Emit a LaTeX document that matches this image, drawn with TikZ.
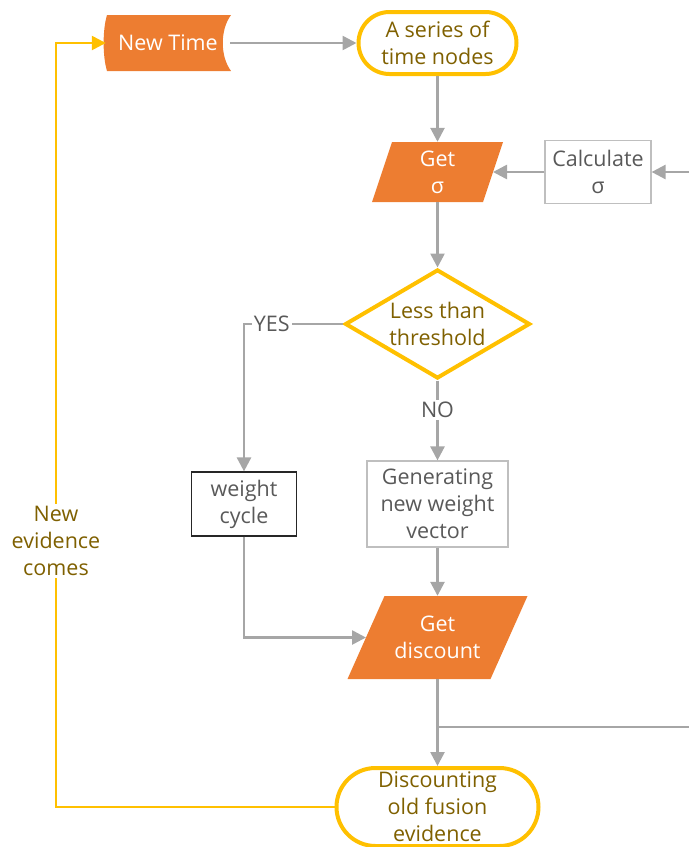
\documentclass[tikz,border=0pt]{standalone}
\usepackage{fontspec}
\setmainfont{Open Sans}
\usetikzlibrary{arrows.meta,shapes.geometric}
\definecolor{orng}{HTML}{ED7D31}
\definecolor{ylw}{HTML}{FFC000}
\definecolor{lgray}{HTML}{A6A6A6}
\definecolor{bgray}{HTML}{BFBFBF}
\definecolor{tgray}{HTML}{595959}
\definecolor{gold}{HTML}{7F6000}
\begin{document}
\begin{tikzpicture}[x=1pt,y=-1pt,
  every node/.style={font=\fontsize{21.5}{27}\selectfont, align=center, inner sep=0pt},
  conn/.style={draw=lgray, line width=2.6pt, -{Triangle[length=14pt,width=14pt]}},
  yconn/.style={draw=ylw, line width=2.5pt, -{Triangle[length=14pt,width=14pt]}},
  term/.style={draw=ylw, line width=4pt, text=gold},
  graybox/.style={draw=bgray, line width=1.2pt, text=tgray},
  darkbox/.style={draw=black!85, line width=1.2pt, text=tgray},
  orngtext/.style={text=white},
  lbl/.style={fill=white, inner sep=2pt},
]
\useasboundingbox (0,0) rectangle (689,847);
\clip (0,0) rectangle (689,847);

% shapes drawn directly
\fill[orng] (107,15) -- (231,15) .. controls (220,30) and (220,56) .. (231,71)
  -- (107,71) .. controls (102.5,56) and (102.5,30) .. (107,15);
\fill[orng] (372,202) -- (392,142) -- (503,142) -- (483,202) -- cycle;
\fill[orng] (347.5,679) -- (384.5,596) -- (527.5,596) -- (490.5,679) -- cycle;

% nodes
\node[orngtext, minimum width=124pt, minimum height=56pt] (newtime) at (168,43) {New Time};
\node[term, minimum width=158pt, minimum height=62pt, rounded corners=31pt] (series) at (437.5,43) {A series of\\time nodes};
\node[orngtext, minimum width=111pt, minimum height=60pt] (gets) at (437.5,172) {Get\\σ};
\node[graybox, minimum width=106pt, minimum height=63pt] (calc) at (598,172) {Calculate\\σ};
\node[diamond, term, aspect=1.68, minimum width=185pt, minimum height=109pt] (dia) at (437.5,324) {Less than\\threshold};
\node[darkbox, minimum width=105pt, minimum height=64pt] (wc) at (244,504) {weight\\cycle};
\node[graybox, minimum width=141pt, minimum height=86pt] (gen) at (437.5,504) {Generating\\new weight\\vector};
\node[orngtext, minimum width=143pt, minimum height=83pt] (getd) at (437.5,637.5) {Get\\discount};
\node[term, minimum width=202pt, minimum height=78pt, rounded corners=39pt] (disc) at (437.5,807) {Discounting\\old fusion\\evidence};

% named free ends and bends
\coordinate (getsR) at (493,172);
\coordinate (getdL) at (366,637.5);
\coordinate (edgeA) at (689,172);
\coordinate (edgeB) at (689,727);
\coordinate (brk) at (437.5,727);
\coordinate (cBL) at (56,807);
\coordinate (cTL) at (56,43);

% connectors
\draw[conn] (newtime.east) -- (series.west);
\draw[conn] (series.south) -- (gets.north);
\draw[conn] (edgeA) -- (calc.east);
\draw[conn] (calc.west) -- (getsR);
\draw[conn] (gets.south) -- (dia.north);
\draw[conn] (dia.west) -| node[lbl, text=tgray, pos=0.36] {YES} (wc.north);
\draw[conn] (dia.south) -- node[lbl, text=tgray, pos=0.37] {NO} (gen.north);
\draw[conn] (gen.south) -- (getd.north);
\draw[conn] (wc.south) |- (getdL);
\draw[conn] (getd.south) -- (disc.north);
\draw[draw=lgray, line width=2.6pt] (brk) -- (edgeB);
\draw[yconn] (disc.west) -- (cBL) -- node[lbl, text=gold, pos=0.348] {New\\evidence\\comes} (cTL) -- (newtime.west);
\end{tikzpicture}
\end{document}
